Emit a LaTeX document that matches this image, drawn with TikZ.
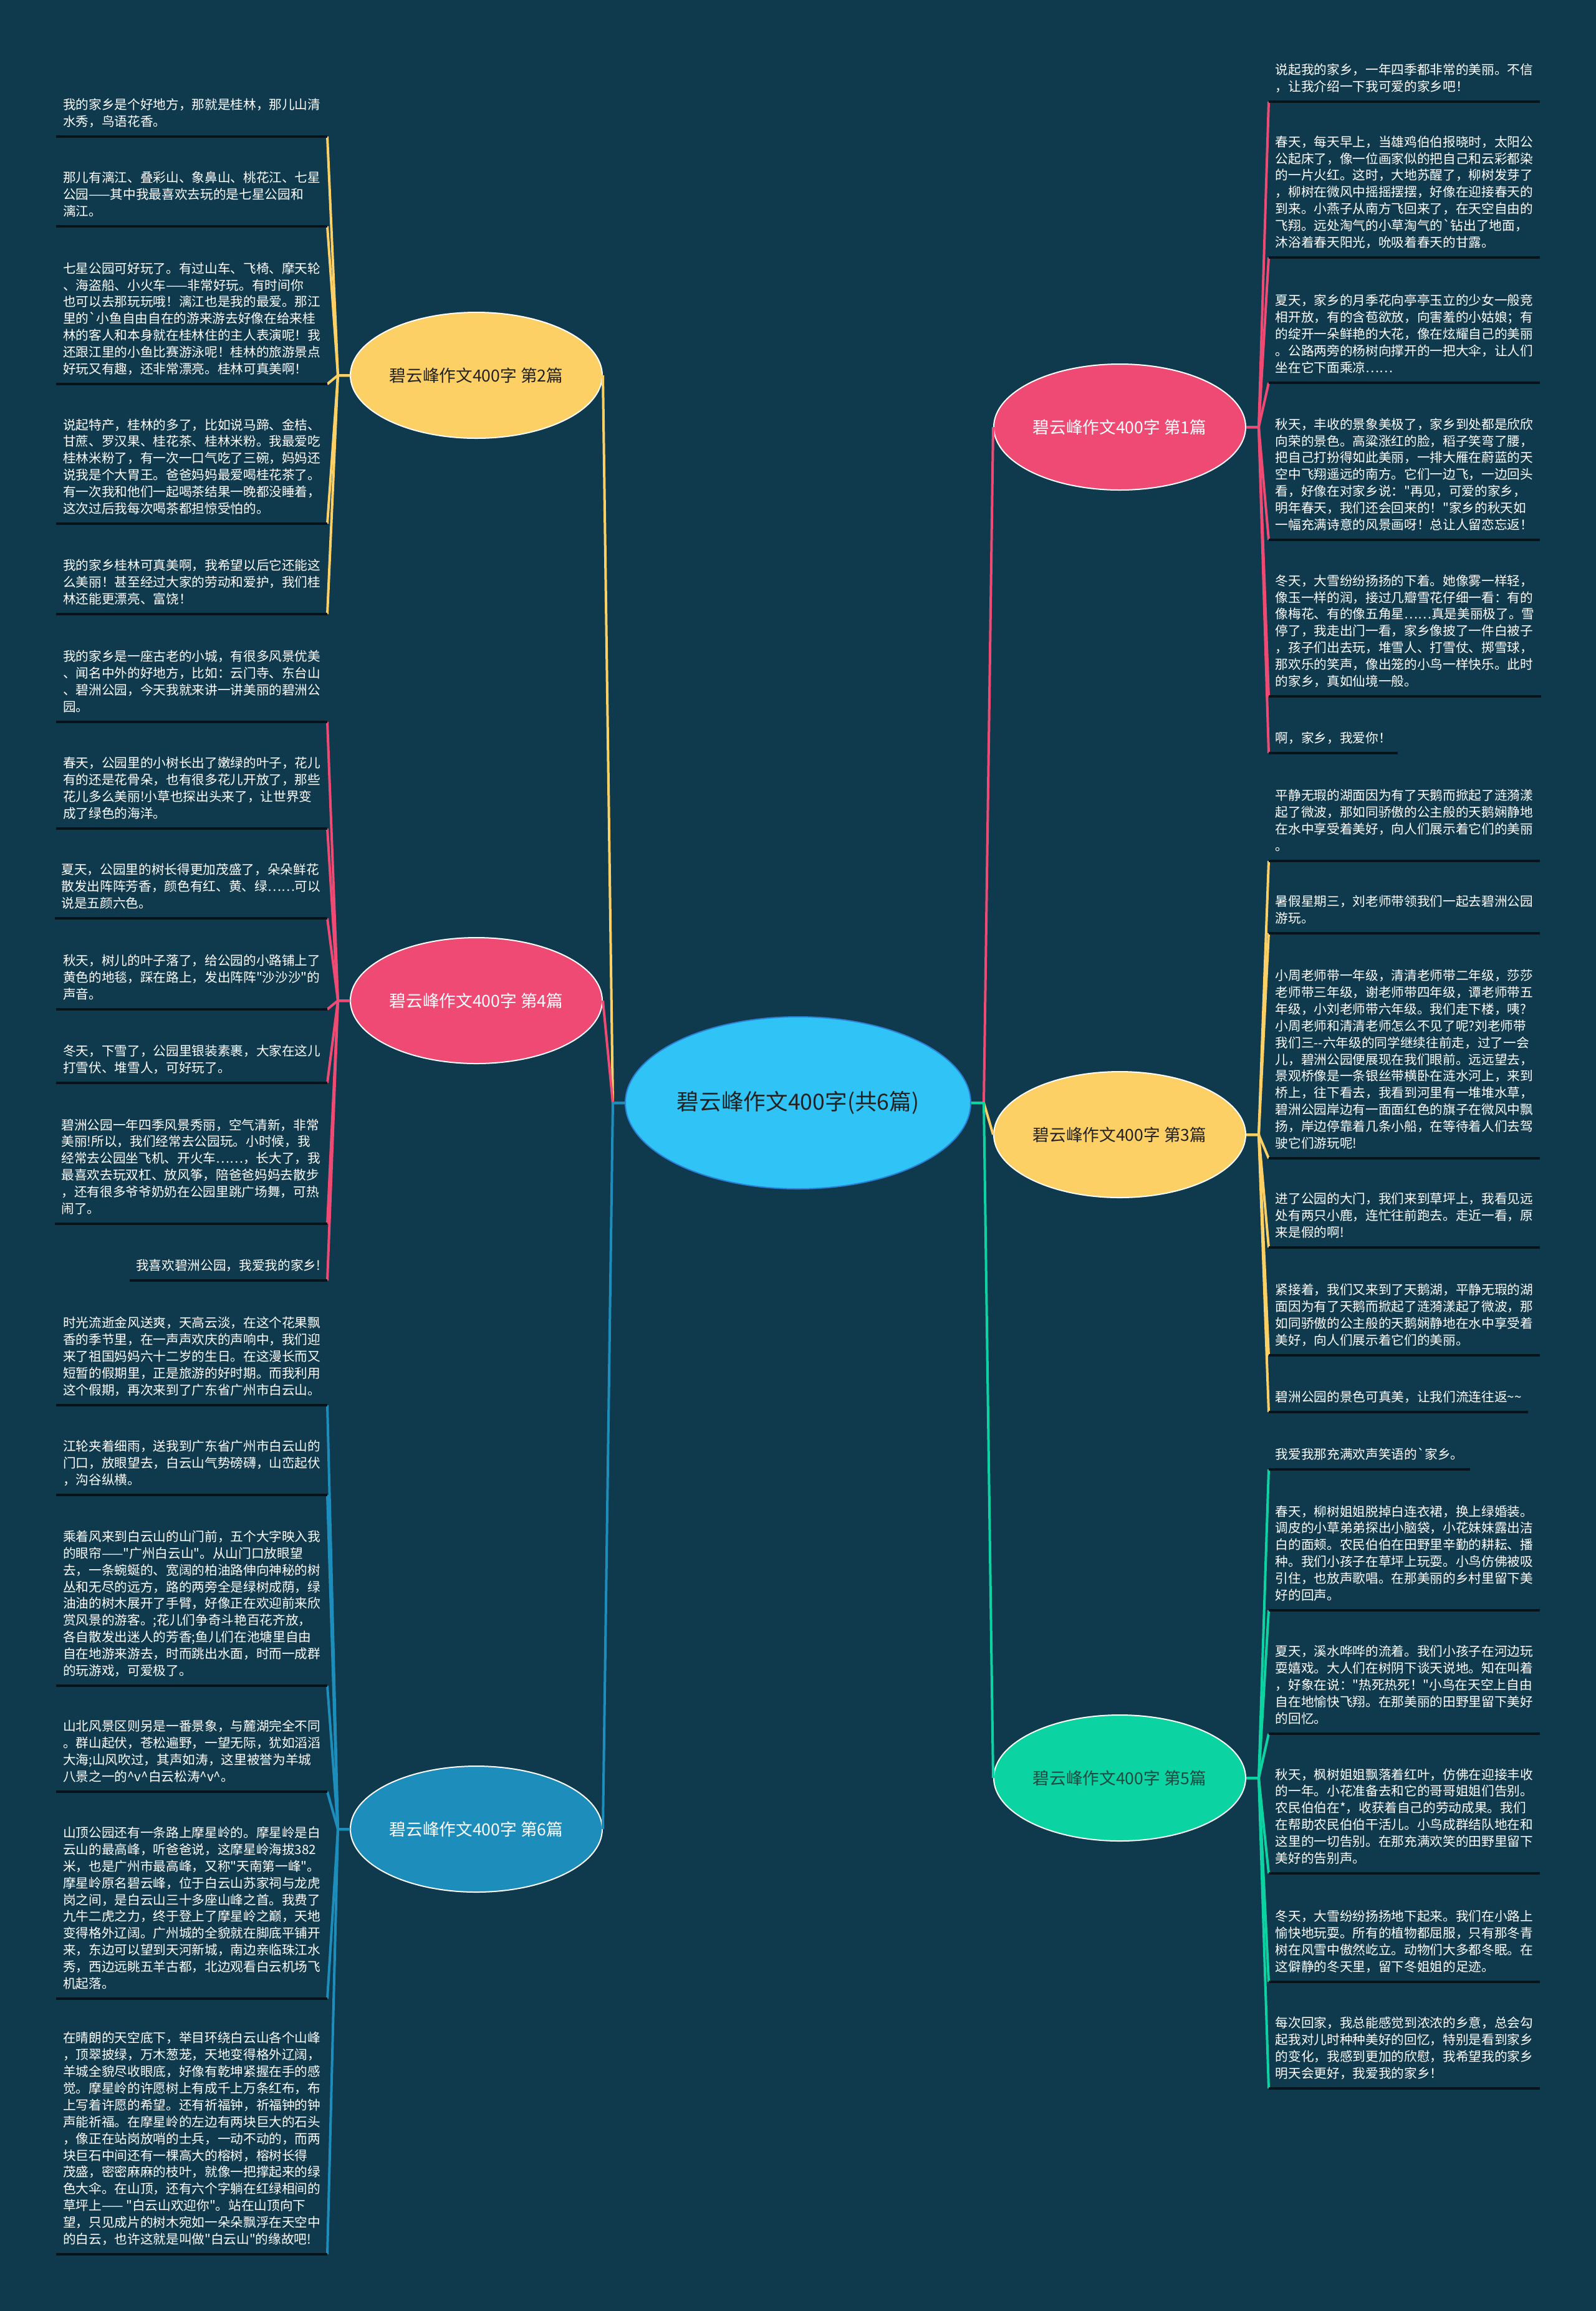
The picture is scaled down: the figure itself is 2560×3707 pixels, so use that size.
\documentclass[tikz,border=0pt]{standalone}
\usepackage{fontspec}
\newfontfamily\cjk{Noto Sans CJK SC}
\usetikzlibrary{positioning,shapes.geometric}
\definecolor{bgcol}{HTML}{0F3A4D}
\definecolor{yel}{HTML}{FDD066}
\definecolor{pnk}{HTML}{EE4A74}
\definecolor{grn}{HTML}{0BD3A1}
\definecolor{blu}{HTML}{1D8DBC}
\definecolor{sky}{HTML}{30C4F6}
\definecolor{skyedge}{HTML}{2C7FD4}
\definecolor{ulcol}{HTML}{06131A}
\definecolor{darktxt}{HTML}{222222}
\definecolor{grntxt}{HTML}{1B4A42}

\begin{document}
\begin{tikzpicture}[x=0.3pt,y=-0.3pt,
  leaf/.style={align=left,inner xsep=3pt,inner ysep=0pt,text=white,
    font=\cjk\fontsize{6.2}{8.07}\selectfont,
    execute at end node={\vrule width 0pt height 0pt depth 4.75pt}},
  lleaf/.style={leaf,anchor=south east},
  rleaf/.style={leaf,anchor=south west},
  topic/.style={ellipse,draw=white,line width=0.6pt,inner sep=0pt,
    minimum width=121.2pt,minimum height=60.6pt,
    font=\cjk\fontsize{8}{10}\selectfont},
  uline/.style={ulcol,line width=1.1pt},
  link/.style={line width=1.2pt,line join=round}]
  \useasboundingbox (0,0) rectangle (2560,3707);
  \fill[bgcol] (0,0) rectangle (2560,3707);

  % 中心
  \node[ellipse,fill=sky,draw=skyedge,line width=0.6pt,inner sep=0pt,
    minimum width=166.2pt,minimum height=82.8pt,text=darktxt,
    font=\cjk\fontsize{10.7}{13}\selectfont] (main) at (1280,1769) {碧云峰作文400字(共6篇)};
  \coordinate[left=5.7pt of main] (ml);
  \coordinate[right=6pt of main] (mr);

  % 左侧三篇
  \node[topic,fill=yel,text=darktxt] (p2) at (764,602) {碧云峰作文400字 第2篇};
  \node[topic,fill=pnk,text=white] (p4) at (764,1605) {碧云峰作文400字 第4篇};
  \node[topic,fill=blu,text=white] (p6) at (764,2934) {碧云峰作文400字 第6篇};
  % 右侧三篇
  \node[topic,fill=pnk,text=white] (p1) at (1796,685) {碧云峰作文400字 第1篇};
  \node[topic,fill=yel,text=darktxt] (p3) at (1796,1820) {碧云峰作文400字 第3篇};
  \node[topic,fill=grn,text=grntxt] (p5) at (1796,2852) {碧云峰作文400字 第5篇};

  \coordinate[left=5.7pt of p2] (j2);
  \coordinate[left=5.7pt of p4] (j4);
  \coordinate[left=5.7pt of p6] (j6);
  \coordinate[right=6pt of p1] (j1);
  \coordinate[right=6pt of p3] (j3);
  \coordinate[right=6pt of p5] (j5);

  % 第2篇
  \node[lleaf] (p2a) at (525,219) {我的家乡是个好地方，那就是桂林，那儿山清\\水秀，鸟语花香。};
  \node[lleaf] (p2b) at (525,363) {那儿有漓江、叠彩山、象鼻山、桃花江、七星\\公园——其中我最喜欢去玩的是七星公园和\\漓江。};
  \node[lleaf] (p2c) at (525,616) {七星公园可好玩了。有过山车、飞椅、摩天轮\\、海盗船、小火车——非常好玩。有时间你\\也可以去那玩玩哦！漓江也是我的最爱。那江\\里的`小鱼自由自在的游来游去好像在给来桂\\林的客人和本身就在桂林住的主人表演呢！我\\还跟江里的小鱼比赛游泳呢！桂林的旅游景点\\好玩又有趣，还非常漂亮。桂林可真美啊！};
  \node[lleaf] (p2d) at (525,840) {说起特产，桂林的多了，比如说马蹄、金桔、\\甘蔗、罗汉果、桂花茶、桂林米粉。我最爱吃\\桂林米粉了，有一次一口气吃了三碗，妈妈还\\说我是个大胃王。爸爸妈妈最爱喝桂花茶了。\\有一次我和他们一起喝茶结果一晚都没睡着，\\这次过后我每次喝茶都担惊受怕的。};
  \node[lleaf] (p2e) at (525,985) {我的家乡桂林可真美啊，我希望以后它还能这\\么美丽！甚至经过大家的劳动和爱护，我们桂\\林还能更漂亮、富饶！};

  % 第4篇
  \node[lleaf] (p4a) at (525,1158) {我的家乡是一座古老的小城，有很多风景优美\\、闻名中外的好地方，比如：云门寺、东台山\\、碧洲公园，今天我就来讲一讲美丽的碧洲公\\园。};
  \node[lleaf] (p4b) at (525,1329) {春天，公园里的小树长出了嫩绿的叶子，花儿\\有的还是花骨朵，也有很多花儿开放了，那些\\花儿多么美丽!小草也探出头来了，让世界变\\成了绿色的海洋。};
  \node[lleaf] (p4c) at (525,1473) {夏天，公园里的树长得更加茂盛了，朵朵鲜花\\散发出阵阵芳香，颜色有红、黄、绿……可以\\说是五颜六色。};
  \node[lleaf] (p4d) at (525,1619) {秋天，树儿的叶子落了，给公园的小路铺上了\\黄色的地毯，踩在路上，发出阵阵"沙沙沙"的\\声音。};
  \node[lleaf] (p4e) at (525,1737) {冬天，下雪了，公园里银装素裹，大家在这儿\\打雪伏、堆雪人，可好玩了。};
  \node[lleaf] (p4f) at (525,1963) {碧洲公园一年四季风景秀丽，空气清新，非常\\美丽!所以，我们经常去公园玩。小时候，我\\经常去公园坐飞机、开火车……，长大了，我\\最喜欢去玩双杠、放风筝，陪爸爸妈妈去散步\\，还有很多爷爷奶奶在公园里跳广场舞，可热\\闹了。};
  \node[lleaf] (p4g) at (525,2054) {我喜欢碧洲公园，我爱我的家乡!};

  % 第6篇
  \node[lleaf] (p6a) at (525,2254) {时光流逝金风送爽，天高云淡，在这个花果飘\\香的季节里，在一声声欢庆的声响中，我们迎\\来了祖国妈妈六十二岁的生日。在这漫长而又\\短暂的假期里，正是旅游的好时期。而我利用\\这个假期，再次来到了广东省广州市白云山。};
  \node[lleaf] (p6b) at (525,2398) {江轮夹着细雨，送我到广东省广州市白云山的\\门口，放眼望去，白云山气势磅礴，山峦起伏\\，沟谷纵横。};
  \node[lleaf] (p6c) at (525,2704) {乘着风来到白云山的山门前，五个大字映入我\\的眼帘——"广州白云山"。从山门口放眼望\\去，一条蜿蜒的、宽阔的柏油路伸向神秘的树\\丛和无尽的远方，路的两旁全是绿树成荫，绿\\油油的树木展开了手臂，好像正在欢迎前来欣\\赏风景的游客。;花儿们争奇斗艳百花齐放，\\各自散发出迷人的芳香;鱼儿们在池塘里自由\\自在地游来游去，时而跳出水面，时而一成群\\的玩游戏，可爱极了。};
  \node[lleaf] (p6d) at (525,2874) {山北风景区则另是一番景象，与麓湖完全不同\\。群山起伏，苍松遍野，一望无际，犹如滔滔\\大海;山风吹过，其声如涛，这里被誉为羊城\\八景之一的\textasciicircum v\textasciicircum 白云松涛\textasciicircum v\textasciicircum 。};
  \node[lleaf] (p6e) at (525,3206) {山顶公园还有一条路上摩星岭的。摩星岭是白\\云山的最高峰，听爸爸说，这摩星岭海拔382\\米，也是广州市最高峰，又称"天南第一峰"。\\摩星岭原名碧云峰，位于白云山苏家祠与龙虎\\岗之间，是白云山三十多座山峰之首。我费了\\九牛二虎之力，终于登上了摩星岭之巅，天地\\变得格外辽阔。广州城的全貌就在脚底平铺开\\来，东边可以望到天河新城，南边亲临珠江水\\秀，西边远眺五羊古都，北边观看白云机场飞\\机起落。};
  \node[lleaf] (p6f) at (525,3616) {在晴朗的天空底下，举目环绕白云山各个山峰\\，顶翠披绿，万木葱茏，天地变得格外辽阔，\\羊城全貌尽收眼底，好像有乾坤紧握在手的感\\觉。摩星岭的许愿树上有成千上万条红布，布\\上写着许愿的希望。还有祈福钟，祈福钟的钟\\声能祈福。在摩星岭的左边有两块巨大的石头\\，像正在站岗放哨的士兵，一动不动的，而两\\块巨石中间还有一棵高大的榕树，榕树长得\\茂盛，密密麻麻的枝叶，就像一把撑起来的绿\\色大伞。在山顶，还有六个字躺在红绿相间的\\草坪上—— "白云山欢迎你"。站在山顶向下\\望，只见成片的树木宛如一朵朵飘浮在天空中\\的白云，也许这就是叫做"白云山"的缘故吧!};

  % 第1篇
  \node[rleaf] (p1a) at (2035,163) {说起我的家乡，一年四季都非常的美丽。不信\\，让我介绍一下我可爱的家乡吧！};
  \node[rleaf] (p1b) at (2035,413) {春天，每天早上，当雄鸡伯伯报晓时，太阳公\\公起床了，像一位画家似的把自己和云彩都染\\的一片火红。这时，大地苏醒了，柳树发芽了\\，柳树在微风中摇摇摆摆，好像在迎接春天的\\到来。小燕子从南方飞回来了，在天空自由的\\飞翔。远处淘气的小草淘气的`钻出了地面，\\沐浴着春天阳光，吮吸着春天的甘露。};
  \node[rleaf] (p1c) at (2035,614) {夏天，家乡的月季花向亭亭玉立的少女一般竞\\相开放，有的含苞欲放，向害羞的小姑娘；有\\的绽开一朵鲜艳的大花，像在炫耀自己的美丽\\。公路两旁的杨树向撑开的一把大伞，让人们\\坐在它下面乘凉……};
  \node[rleaf] (p1d) at (2035,866) {秋天，丰收的景象美极了，家乡到处都是欣欣\\向荣的景色。高粱涨红的脸，稻子笑弯了腰，\\把自己打扮得如此美丽，一排大雁在蔚蓝的天\\空中飞翔遥远的南方。它们一边飞，一边回头\\看，好像在对家乡说："再见，可爱的家乡，\\明年春天，我们还会回来的！"家乡的秋天如\\一幅充满诗意的风景画呀！总让人留恋忘返！};
  \node[rleaf] (p1e) at (2035,1117) {冬天，大雪纷纷扬扬的下着。她像雾一样轻，\\像玉一样的润，接过几瓣雪花仔细一看：有的\\像梅花、有的像五角星……真是美丽极了。雪\\停了，我走出门一看，家乡像披了一件白被子\\，孩子们出去玩，堆雪人、打雪仗、掷雪球，\\那欢乐的笑声，像出笼的小鸟一样快乐。此时\\的家乡，真如仙境一般。};
  \node[rleaf] (p1f) at (2035,1208) {啊，家乡，我爱你！};

  % 第3篇
  \node[rleaf] (p3a) at (2035,1381) {平静无瑕的湖面因为有了天鹅而掀起了涟漪漾\\起了微波，那如同骄傲的公主般的天鹅娴静地\\在水中享受着美好，向人们展示着它们的美丽\\。};
  \node[rleaf] (p3b) at (2035,1497) {暑假星期三，刘老师带领我们一起去碧洲公园\\游玩。};
  \node[rleaf] (p3c) at (2035,1858) {小周老师带一年级，清清老师带二年级，莎莎\\老师带三年级，谢老师带四年级，谭老师带五\\年级，小刘老师带六年级。我们走下楼，咦?\\小周老师和清清老师怎么不见了呢?刘老师带\\我们三--六年级的同学继续往前走，过了一会\\儿，碧洲公园便展现在我们眼前。远远望去，\\景观桥像是一条银丝带横卧在涟水河上，来到\\桥上，往下看去，我看到河里有一堆堆水草，\\碧洲公园岸边有一面面红色的旗子在微风中飘\\扬，岸边停靠着几条小船，在等待着人们去驾\\驶它们游玩呢!};
  \node[rleaf] (p3d) at (2035,2001) {进了公园的大门，我们来到草坪上，我看见远\\处有两只小鹿，连忙往前跑去。走近一看，原\\来是假的啊!};
  \node[rleaf] (p3e) at (2035,2174) {紧接着，我们又来到了天鹅湖，平静无瑕的湖\\面因为有了天鹅而掀起了涟漪漾起了微波，那\\如同骄傲的公主般的天鹅娴静地在水中享受着\\美好，向人们展示着它们的美丽。};
  \node[rleaf] (p3f) at (2035,2265) {碧洲公园的景色可真美，让我们流连往返\textasciitilde\textasciitilde};

  % 第5篇
  \node[rleaf] (p5a) at (2035,2357) {我爱我那充满欢声笑语的`家乡。};
  \node[rleaf] (p5b) at (2035,2583) {春天，柳树姐姐脱掉白连衣裙，换上绿婚装。\\调皮的小草弟弟探出小脑袋，小花妹妹露出洁\\白的面颊。农民伯伯在田野里辛勤的耕耘、播\\种。我们小孩子在草坪上玩耍。小鸟仿佛被吸\\引住，也放声歌唱。在那美丽的乡村里留下美\\好的回声。};
  \node[rleaf] (p5c) at (2035,2781) {夏天，溪水哗哗的流着。我们小孩子在河边玩\\耍嬉戏。大人们在树阴下谈天说地。知在叫着\\，好象在说："热死热死！"小鸟在天空上自由\\自在地愉快飞翔。在那美丽的田野里留下美好\\的回忆。};
  \node[rleaf] (p5d) at (2035,3005) {秋天，枫树姐姐飘落着红叶，仿佛在迎接丰收\\的一年。小花准备去和它的哥哥姐姐们告别。\\农民伯伯在*，收获着自己的劳动成果。我们\\在帮助农民伯伯干活儿。小鸟成群结队地在和\\这里的一切告别。在那充满欢笑的田野里留下\\美好的告别声。};
  \node[rleaf] (p5e) at (2035,3179) {冬天，大雪纷纷扬扬地下起来。我们在小路上\\愉快地玩耍。所有的植物都屈服，只有那冬青\\树在风雪中傲然屹立。动物们大多都冬眠。在\\这僻静的冬天里，留下冬姐姐的足迹。};
  \node[rleaf] (p5f) at (2035,3350) {每次回家，我总能感觉到浓浓的乡意，总会勾\\起我对儿时种种美好的回忆，特别是看到家乡\\的变化，我感到更加的欣慰，我希望我的家乡\\明天会更好，我爱我的家乡！};

  % 连线：中心到各篇
  \draw[link,yel] (main.west) -- (ml) -- (p2.east);
  \draw[link,pnk] (main.west) -- (ml) -- (p4.east);
  \draw[link,blu] (main.west) -- (ml) -- (p6.east);
  \draw[link,pnk] (main.east) -- (mr) -- (p1.west);
  \draw[link,yel] (main.east) -- (mr) -- (p3.west);
  \draw[link,grn] (main.east) -- (mr) -- (p5.west);

  % 连线：各篇到段落
  \foreach \n in {p2a,p2b,p2c,p2d,p2e}
    \draw[link,yel] (p2.west) -- (j2) -- (\n.south east);
  \foreach \n in {p4a,p4b,p4c,p4d,p4e,p4f,p4g}
    \draw[link,pnk] (p4.west) -- (j4) -- (\n.south east);
  \foreach \n in {p6a,p6b,p6c,p6d,p6e,p6f}
    \draw[link,blu] (p6.west) -- (j6) -- (\n.south east);
  \foreach \n in {p1a,p1b,p1c,p1d,p1e,p1f}
    \draw[link,pnk] (p1.east) -- (j1) -- (\n.south west);
  \foreach \n in {p3a,p3b,p3c,p3d,p3e,p3f}
    \draw[link,yel] (p3.east) -- (j3) -- (\n.south west);
  \foreach \n in {p5a,p5b,p5c,p5d,p5e,p5f}
    \draw[link,grn] (p5.east) -- (j5) -- (\n.south west);

  % 段落下划线
  \foreach \n in {p2a,p2b,p2c,p2d,p2e,p4a,p4b,p4c,p4d,p4e,p4f,p4g,
      p6a,p6b,p6c,p6d,p6e,p6f,p1a,p1b,p1c,p1d,p1e,p1f,
      p3a,p3b,p3c,p3d,p3e,p3f,p5a,p5b,p5c,p5d,p5e,p5f}
    \draw[uline] (\n.south west) -- (\n.south east);
\end{tikzpicture}
\end{document}
